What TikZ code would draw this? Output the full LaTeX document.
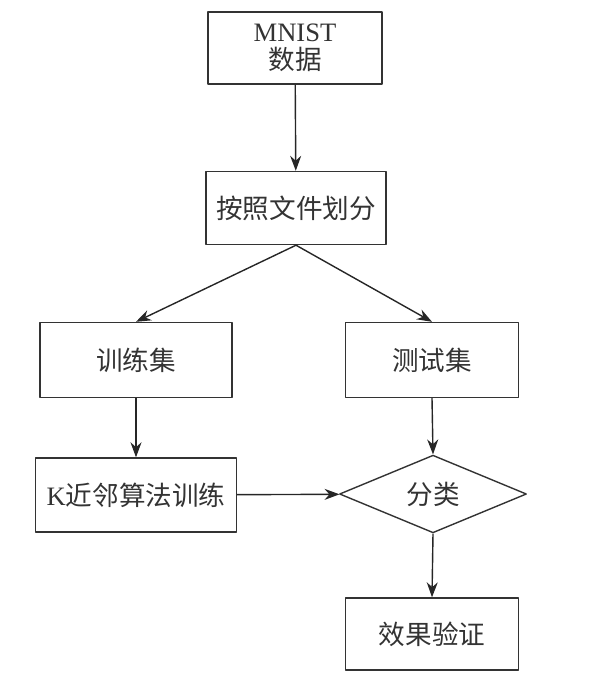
\documentclass[tikz,border=0pt]{standalone}
\usepackage{fontspec}
\setmainfont{Liberation Serif}
\newfontfamily\cjk{Noto Sans CJK SC}
\usetikzlibrary{shapes.geometric,arrows.meta}
\begin{document}
\begin{tikzpicture}[x=0.5pt,y=-0.5pt,>={Stealth[length=7.5pt,width=5.5pt]},line join=round,
	every node/.style={font=\fontsize{13.3}{16}\selectfont,text=black!80},
	boxnode/.style={draw=black!80,line width=0.7pt,inner sep=0pt,align=center},
	choice/.style={draw=black!80,line width=0.7pt,diamond,inner sep=0pt,minimum width=93.5pt,minimum height=36.5pt},
	flow/.style={->,draw=black!85,line width=0.7pt}]
		\useasboundingbox (0,0) rectangle (598,679);
		\node[boxnode,minimum width=87pt,minimum height=36pt] (mnist) at (295,48) {MNIST\\[-2pt]{\cjk 数据}};
		\node[boxnode,minimum width=90pt,minimum height=36.5pt] (split) at (296,208) {\cjk 按照文件划分};
		\node[boxnode,minimum width=96pt,minimum height=37.5pt] (train) at (136,360) {\cjk 训练集};
		\node[boxnode,minimum width=86.5pt,minimum height=37.5pt] (test) at (432,360) {\cjk 测试集};
		\node[boxnode,minimum width=100.5pt,minimum height=37pt] (knn) at (136,495) {K{\cjk 近邻算法训练}};
		\node[choice] (cls) at (433,494) {\cjk 分类};
		\node[boxnode,minimum width=86.5pt,minimum height=36pt] (check) at (432,634) {\cjk 效果验证};
		\draw[flow] (mnist)--(split);
		\draw[flow] (split.south)--(train.north);
		\draw[flow] (split.south)--(test.north);
		\draw[flow] (train)--(knn);
		\draw[flow] (test.south)--(cls.north);
		\draw[flow] (knn)--(cls);
		\draw[flow] (cls.south)--(check.north);
\end{tikzpicture}
\end{document}
